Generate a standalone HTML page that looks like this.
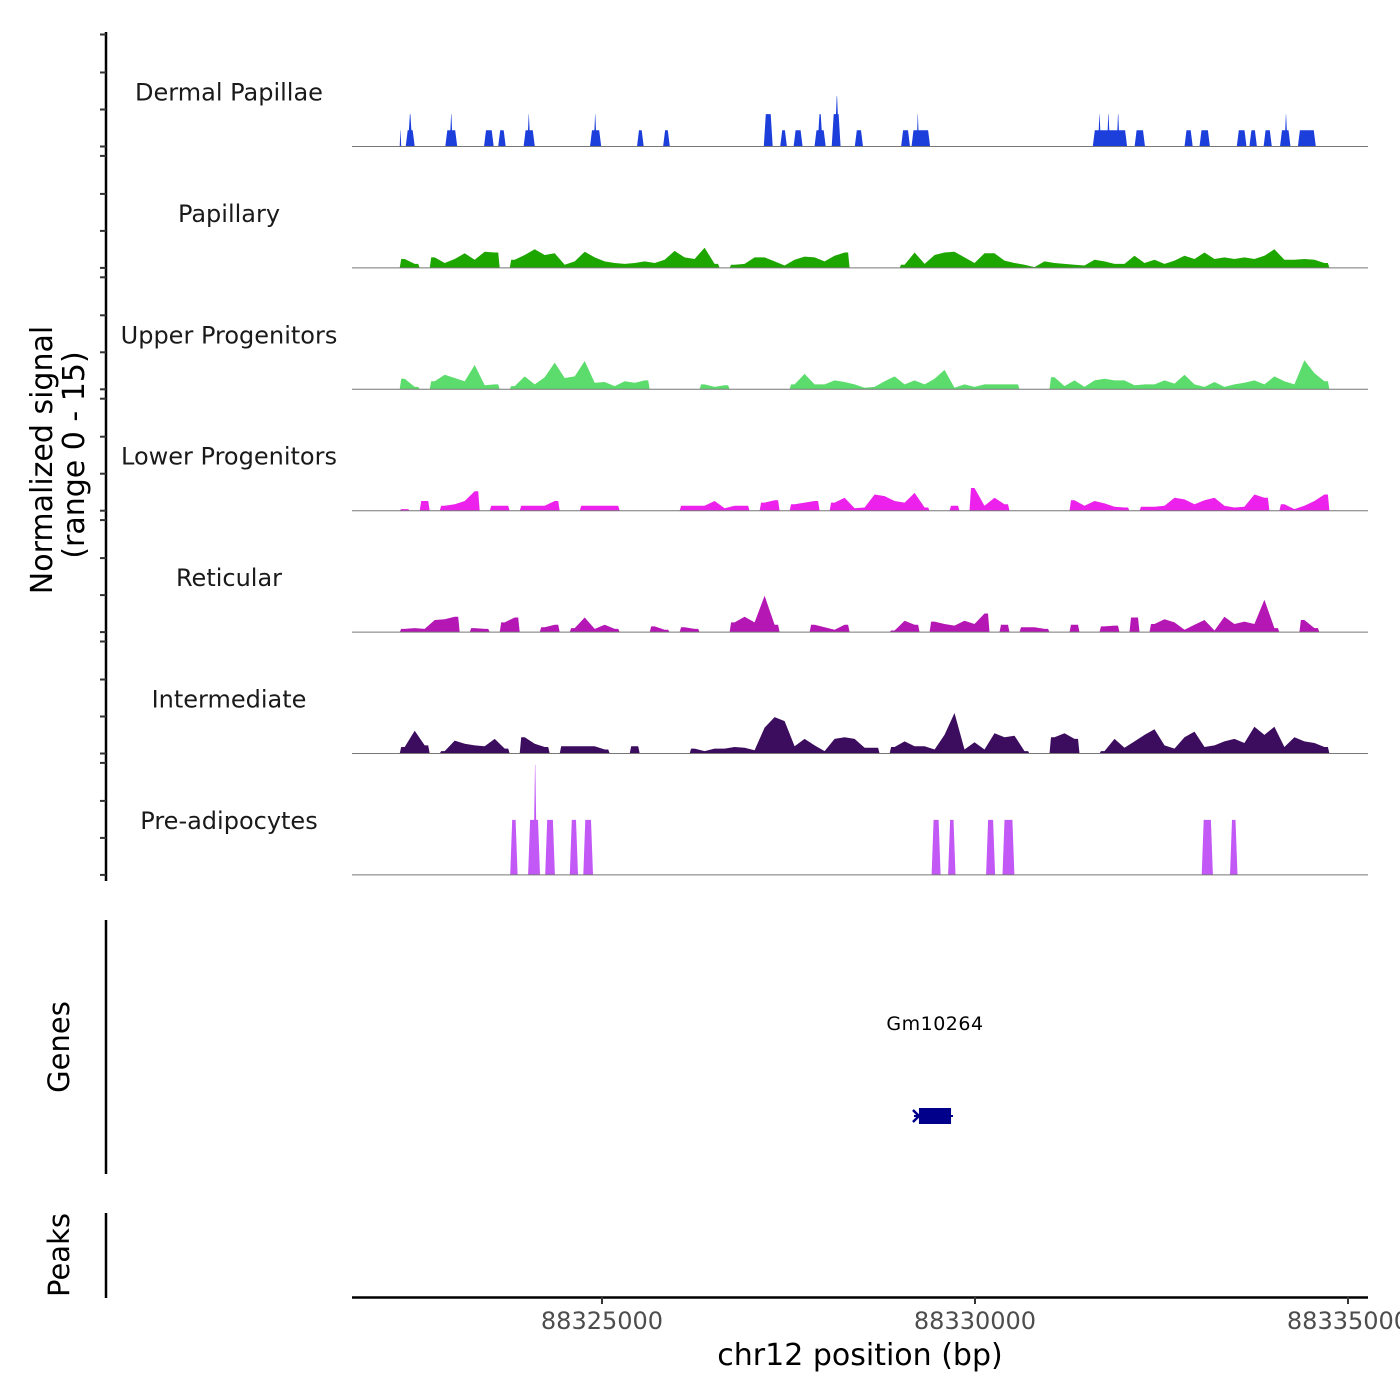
<!DOCTYPE html>
<html><head><meta charset="utf-8"><title>Coverage tracks</title>
<style>
html,body{margin:0;padding:0;background:#fff;}
svg{display:block;font-family:"DejaVu Sans","Liberation Sans",sans-serif;}
</style></head>
<body>
<svg id="chart" width="1400" height="1400" viewBox="0 0 1400 1400" xmlns="http://www.w3.org/2000/svg">
  <rect width="1400" height="1400" fill="#fff"/>
  <g id="tracks"></g>
  <g id="leftaxis"></g>
  <text transform="translate(52,460) rotate(-90)" text-anchor="middle" font-size="30" fill="#000">Normalized signal</text>
  <text transform="translate(84,455) rotate(-90)" text-anchor="middle" font-size="30" fill="#000">(range 0 - 15)</text>
  <line x1="106" y1="920" x2="106" y2="1174" stroke="#000" stroke-width="2.5"/>
  <text transform="translate(69,1047) rotate(-90)" text-anchor="middle" font-size="29" fill="#000">Genes</text>
  <g id="genes"></g>
  <line x1="106" y1="1213" x2="106" y2="1298" stroke="#000" stroke-width="2.5"/>
  <text transform="translate(69,1255) rotate(-90)" text-anchor="middle" font-size="29" fill="#000">Peaks</text>
  <g id="xaxis"></g>
  <text x="860" y="1365" text-anchor="middle" font-size="30" fill="#000">chr12 position (bp)</text>
</svg>
<script>
// ---- data (positions in kb on chr12; signal values 0-15) ----
const regionStartKb = 88321.649;
const regionEndKb = 88335.28;
const trackNames = ["Dermal Papillae","Papillary","Upper Progenitors","Lower Progenitors","Reticular","Intermediate","Pre-adipocytes"];
const trackColors = ["#1c3fdc","#1ea600","#5cdc6c","#ec22ec","#b417b4","#3c0c5e","#c258f6"];
// binned tracks: bin start offset (kb from region start) and bin width (kb)
const binStartOffset = 0.64;
const binWidthKb = 0.134;
const papillary = [1.1,0.5,0,1.3,0.6,1.1,1.8,1.0,2.0,1.9,0,1.0,1.6,2.3,1.6,1.8,0.4,0.8,2.0,1.3,0.8,0.6,0.5,0.6,0.8,0.6,1.0,2.1,1.3,1.1,2.5,0.5,0,0.4,0.5,1.3,1.3,0.8,0.3,1.0,1.4,1.3,0.8,1.5,1.9,0,
  0,0,0,0,0.4,1.9,0.5,1.6,1.9,2.0,1.3,0.6,1.8,1.8,0.9,0.6,0.4,0.1,0.8,0.6,0.5,0.4,0.3,1.0,0.8,0.5,0.5,1.5,0.6,1.0,0.5,0.9,1.5,1.1,1.9,1.1,1.3,1.1,1.3,1.1,1.5,2.3,1.0,1.0,1.1,1.0,0.6];
const upperProg = [1.3,0.3,0,1.0,1.8,1.4,1.0,3.0,0.5,0.6,0,0.4,1.6,0.6,1.5,3.3,1.4,1.6,3.5,0.8,0.9,0.4,1.0,0.8,1.1,0,0,0,0,0,0.6,0.3,0.5,0,0,0,0,0,0,0.6,1.9,0.6,0.6,1.1,0.9,0.6,
  0.2,0.3,1.0,1.6,0.6,1.1,0.6,1.3,2.4,0.2,0.6,0.3,0.6,0.6,0.6,0.6,0,0,0,1.5,0.4,1.1,0.3,1.1,1.3,1.1,1.1,0.5,0.6,0.6,1.1,0.7,1.8,0.6,0.3,0.9,0.3,0.6,0.8,1.1,0.6,1.6,1.0,0.6,3.6,2.0,1.0];
const lowerProg = [0.2,0,1.2,0,0.6,0.8,1.2,2.4,0,0.6,0.6,0,0.6,0.6,0.6,1.2,0,0,0.6,0.6,0.6,0.6,0,0,0,0,0,0,0.6,0.6,0.6,1.2,0.3,0.6,0.6,0,1.0,1.3,0,0.8,1.0,1.2,0,1.0,1.6,0.3,
  0.4,2.0,1.8,1.2,1.0,2.2,0.4,0,0,0.6,0,2.8,0.6,1.6,0.8,0,0,0,0,0,0,1.3,0.6,1.2,0.9,0.5,0.4,0,0.5,0.5,0.6,1.6,1.4,0.8,1.3,1.6,0.6,0.4,0.5,2.0,1.6,0,0.8,0.2,0.6,1.2,2.0];
const reticular = [0.4,0.5,0.4,1.5,1.6,1.9,0,0.5,0.4,0,1.2,1.8,0,0,0.6,0.9,0,0.5,1.8,0.4,0.9,0.4,0,0,0,0.7,0.3,0,0.6,0.4,0,0,0,1.2,1.9,1.2,4.5,0.9,0,0,0,0.9,0.6,0.3,0.9,0,
  0,0,0,0.2,1.4,0.9,0,1.3,1.0,0.8,1.4,1.0,2.3,0,0.9,0,0.6,0.6,0.4,0,0,0.9,0,0,0.7,0.8,0,1.8,0,1.0,1.6,1.2,0.3,0.9,1.5,0.2,1.9,1.0,1.3,1.0,4.0,0.5,0,0,1.5,0.5,0];
const intermediate = [0.8,2.8,1.0,0,0.3,1.6,1.2,1.0,0.9,1.8,0.6,0,2.0,1.2,0.8,0,0.9,0.9,0.9,0.9,0.5,0,0,0.9,0,0,0,0,0,0.6,0.3,0.6,0.6,0.8,0.7,0.4,3.2,4.5,4.0,0.9,1.8,1.0,0.3,1.8,2.0,1.8,
  0.7,0.7,0,0.8,1.5,0.9,0.9,0.5,2.3,5.0,0.5,1.4,0.5,2.5,2.0,2.2,0.3,0,0,2.0,2.5,1.8,0,0,0.3,1.8,0.7,1.5,2.3,3.0,1.0,0.6,2.0,2.7,0.8,1.0,1.5,1.8,1.3,3.3,2.3,3.3,0.8,2.0,1.5,1.3,0.8];
// segment tracks: [startOffsetKb, endOffsetKb, value]
const dermalSegments = [[0.64,0.66,2],[0.72,0.84,2],[0.75,0.81,4],[1.25,1.41,2],[1.31,1.35,4],[1.77,1.90,2],[1.96,2.06,2],[2.30,2.45,2],[2.35,2.39,4],
  [3.19,3.34,2],[3.24,3.28,4],[3.82,3.91,2],[4.17,4.26,2],[5.52,5.64,4],[5.74,5.83,2],[5.92,6.04,2],[6.20,6.35,2],[6.24,6.31,4],
  [6.43,6.55,4],[6.47,6.53,6.2],[6.74,6.85,2],[7.36,7.48,2],[7.50,7.75,2],[7.57,7.60,4],[9.93,10.39,2],[10.00,10.04,4],[10.12,10.16,4],[10.25,10.29,4],
  [10.49,10.63,2],[11.16,11.27,2],[11.36,11.50,2],[11.86,11.99,2],[12.03,12.13,2],[12.22,12.33,2],[12.44,12.58,2],[12.50,12.54,4],[12.68,12.92,2]];
const preadipoSegments = [[2.12,2.22,6.8],[2.36,2.52,6.8],[2.43,2.48,13.6],[2.59,2.72,6.8],[2.92,3.03,6.8],[3.10,3.23,6.8],[7.77,7.89,6.8],[7.99,8.09,6.8],
  [8.50,8.62,6.8],[8.72,8.88,6.8],[11.39,11.54,6.8],[11.77,11.87,6.8]];
const geneName = "Gm10264";
const geneStartOffset = 7.60;
const geneEndOffset = 8.03;
const xTickValues = [88325000, 88330000, 88335000];
const xTickLabels = ["88325000", "88330000", "88335000"];

// ---- layout ----
const NS = "http://www.w3.org/2000/svg";
const plotLeft = 352, plotRight = 1368;
const pxPerKb = 74.6;
const firstBaseline = 146.5, trackStep = 121.4;
const yMax = 15, trackHeight = 121.4;
function xScale(kb){ return plotLeft + (kb - regionStartKb) * pxPerKb; }
function xOff(off){ return xScale(regionStartKb + off); }
function yScale(v, base){ return base - v * (trackHeight / yMax); }
function mk(tag, attrs, parent){ const e=document.createElementNS(NS,tag); for(const k in attrs) e.setAttribute(k,attrs[k]); parent.appendChild(e); return e; }

const tracksG = document.getElementById('tracks');
const binnedData = [null, papillary, upperProg, lowerProg, reticular, intermediate, null];

trackNames.forEach((name, k) => {
  const base = firstBaseline + k * trackStep;
  const g = mk('g', {}, tracksG);
  
  
  const lbl = mk('text', {x:229, y: base - 46, 'text-anchor':'middle', 'font-size':24, fill:'#1a1a1a'}, g);
  lbl.textContent = name;
  
  
  const color = trackColors[k];
  const data = binnedData[k];
  if (data) {
    let i = 0;
    while (i < data.length) {
      if (data[i] <= 0) { i++; continue; }
      let j = i;
      while (j < data.length && data[j] > 0) j++;
      const pts = [];
      pts.push([xOff(binStartOffset + i*binWidthKb), base]);
      pts.push([xOff(binStartOffset + i*binWidthKb) + 1.5, yScale(data[i], base)]);
      for (let m = i; m < j; m++) {
        pts.push([xOff(binStartOffset + (m+0.5)*binWidthKb), yScale(data[m], base)]);
      }
      pts.push([xOff(binStartOffset + j*binWidthKb) - 1.5, yScale(data[j-1], base)]);
      pts.push([xOff(binStartOffset + j*binWidthKb), base]);
      const p = mk('polygon', {points: pts.map(q=>q[0].toFixed(1)+','+q[1].toFixed(1)).join(' '), fill: color}, g);
      
      
      i = j;
    }
  } else {
    const segs = k === 0 ? dermalSegments : preadipoSegments;
    segs.forEach(s => {
      const x0 = xOff(s[0]), x1 = xOff(s[1]);
      const inset = Math.min(2, (x1-x0)/2.2);
      const y = yScale(s[2], base);
      const pts = [[x0,base],[x0+inset,y],[x1-inset,y],[x1,base]];
      const p = mk('polygon', {points: pts.map(q=>q[0].toFixed(1)+','+q[1].toFixed(1)).join(' '), fill: color}, g);
      
      
    });
  }
  const bl = mk('line', {x1:plotLeft, x2:plotRight, y1:base, y2:base, stroke:'#777', 'stroke-width':1}, g);
  
  
});

// left axis
const la = document.getElementById('leftaxis');
const axl = mk('line', {x1:106, x2:106, y1:32, y2:881, stroke:'#000', 'stroke-width':2.5}, la);


for (let k = 0; k < 7; k++) {
  const base = firstBaseline + k * trackStep;
  [0, 37, 74, 112].forEach(d => {
    const t = mk('line', {x1:100, x2:106, y1:base - d, y2:base - d, stroke:'#333', 'stroke-width':2}, la);
    
    
  });
}

// gene
const gg = document.getElementById('genes');
const gx0 = xOff(geneStartOffset), gx1 = xOff(geneEndOffset);
const gl = mk('text', {x:(gx0+gx1)/2, y:1030, 'text-anchor':'middle', 'font-size':19, fill:'#000', 'letter-spacing':'0.5'}, gg);
gl.textContent = geneName;


const gline = mk('line', {x1:gx0-5, x2:gx1+2, y1:1116, y2:1116, stroke:'#00008b', 'stroke-width':2}, gg);


const gbody = mk('rect', {x:gx0, y:1108, width:gx1-gx0, height:16, fill:'#00008b'}, gg);


const garrow = mk('path', {d:`M${gx0-6},1110 L${gx0},1116 L${gx0-6},1122`, stroke:'#00008b', 'stroke-width':2.5, fill:'none'}, gg);



// x axis
const xa = document.getElementById('xaxis');
const xl = mk('line', {x1:plotLeft, x2:plotRight, y1:1297.5, y2:1297.5, stroke:'#000', 'stroke-width':2.5}, xa);


xTickValues.forEach((v, i) => {
  const x = xScale(v / 1000);
  const t = mk('line', {x1:x, x2:x, y1:1297, y2:1304, stroke:'#333', 'stroke-width':2}, xa);
  
  
  const lt = mk('text', {x:x, y:1329, 'text-anchor':'middle', 'font-size':24, fill:'#4d4d4d'}, xa);
  lt.textContent = xTickLabels[i];
  
  
});
</script>
</body></html>
